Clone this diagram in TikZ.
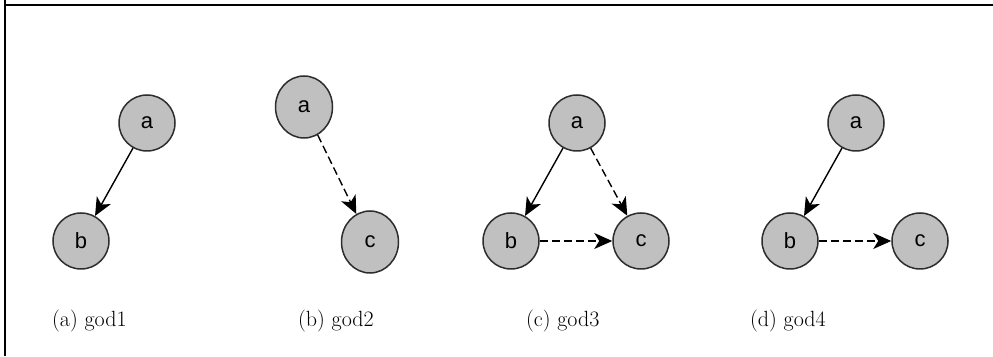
\documentclass[tikz,border=0pt]{standalone}
\usepackage{fontspec}
\newfontfamily\nodefont{Liberation Sans}
\usetikzlibrary{arrows.meta,shapes.geometric}
\definecolor{nodefill}{RGB}{192,192,192}
\definecolor{nodeline}{RGB}{45,45,45}
\tikzset{
  vertex/.style={circle,draw=nodeline,fill=nodefill,line width=1.5pt,
    minimum size=56pt,inner sep=0pt,font=\nodefont\fontsize{22}{22}\selectfont},
  tallvertex/.style={vertex,ellipse,minimum width=57pt,minimum height=62pt},
  edge/.style={line width=1.4pt,draw=black,-{Stealth[length=18pt,width=16pt,inset=5pt]}},
  latent/.style={edge,dash pattern=on 8pt off 4pt},
  caption/.style={font=\fontsize{22}{22}\selectfont,anchor=base west,inner sep=0pt},
  frame/.style={line width=1.4pt,draw=black}
}
\begin{document}
\begin{tikzpicture}[x=1pt,y=1pt]
\useasboundingbox (0,0) rectangle (993,356);
% open frame: top and left sides
\draw[frame] (5,356) -- (5,351) -- (993,351);
\draw[frame] (5,351) -- (5,0);

% (a) god1
\node[vertex] (a1) at (147,233) {a};
\node[vertex] (b1) at (81,115) {b};
\draw[edge] (a1) -- (b1);
\node[caption] (ca) at (52,29) {(a) god1};

% (b) god2
\node[tallvertex] (a2) at (304,249) {a};
\node[tallvertex] (c2) at (370,114) {c};
\draw[latent] (a2) -- (c2);
\node[caption] (cb) at (298,29) {(b) god2};

% (c) god3
\node[vertex] (a3) at (577,233) {a};
\node[vertex] (b3) at (511,115) {b};
\node[vertex] (c3) at (641,115) {c};
\draw[edge] (a3) -- (b3);
\draw[latent] (a3) -- (c3);
\draw[latent] (b3) -- (c3);
\node[caption] (cc) at (526,29) {(c) god3};

% (d) god4
\node[vertex] (a4) at (856,233) {a};
\node[vertex] (b4) at (790,115) {b};
\node[vertex] (c4) at (920,115) {c};
\draw[edge] (a4) -- (b4);
\draw[latent] (b4) -- (c4);
\node[caption] (cd) at (750,29) {(d) god4};
\end{tikzpicture}
\end{document}
